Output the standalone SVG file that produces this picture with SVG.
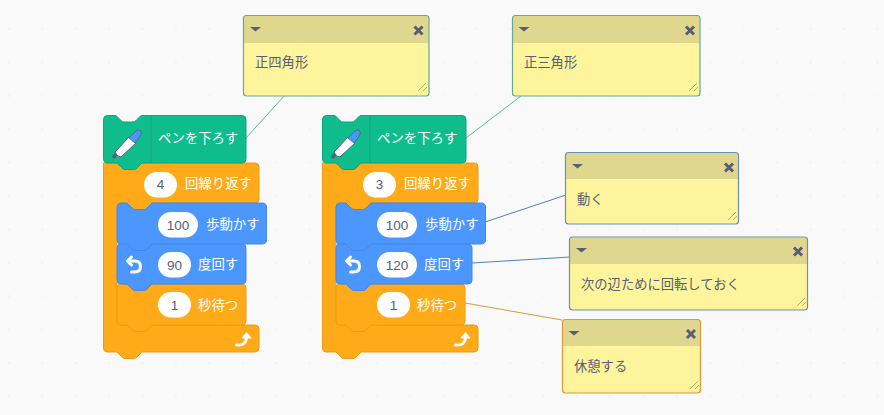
<svg xmlns="http://www.w3.org/2000/svg" width="884" height="415" viewBox="0 0 884 415">
<style>
text{font-family:"Noto Sans CJK JP","Noto Sans",sans-serif}
.lbl{font-size:13.400px;fill:#fff}
.num{font-size:13.500px;fill:#575e75;text-anchor:middle;font-family:"Liberation Sans",Arial,sans-serif}
.pill{fill:#fff}
.note{font-size:13.300px;fill:#575e75}
.nb{fill:#fef49c}
.nh{fill:#e0d78e}
.edge{fill:none;stroke-width:1.200}
.ic{fill:#575e75}
.x{stroke:#575e75;stroke-width:3;fill:none}
.grip{stroke:#b5ad70;stroke-width:1;fill:none}
.conn{fill:none;stroke-width:1}
.green{fill:#0fbd8c;stroke:#0da57a}
.orange{fill:#ffab19;stroke:#ec9c13}
.blue{fill:#4c97ff;stroke:#4587e6}
</style>
<defs>
<pattern id="dots" width="33.4" height="33.4" patternUnits="userSpaceOnUse" x="8" y="28">
<circle cx="1" cy="1" r="1" fill="#efefef"/>
</pattern>
<g id="pen">
<path d="M-9 11 L-13 15 L-15 13 L-12 8Z" fill="#575e75"/>
<path d="M-12 8 L2 -7 L9 -1 L-6 13Q-10 13 -12 8Z" fill="#fff" stroke="#575e75" stroke-width="1"/>
<path d="M2 -6 L9 -13 Q12 -15 14 -13 Q15 -10 13 -8 L8 -1Z" fill="#4c97ff" stroke="#575e75" stroke-width=".8"/>
</g>
<g id="turn">
<path d="M-2.500 -7 L-6.500 -3 L-2.500 1 M-5.500 -3 H1 Q6.500 -3 6.500 2.500 Q6.500 8 0.500 8 H-2.500" fill="none" stroke="#fff" stroke-width="3" stroke-linecap="round" stroke-linejoin="round"/>
</g>
<g id="loop">
<path d="M-6.500 6 Q3.500 7 3.500 -2" fill="none" stroke="#fff" stroke-width="2.800" stroke-linecap="round"/>
<path d="M-1 -1 L3.500 -6.500 L8 -1Z" fill="#fff" stroke="#fff" stroke-linejoin="round"/>
</g>
<g id="hdr">
<path d="M0 0 l5.500 -4.500 h-11z" class="ic" transform="translate(0 2.500)"/>
</g>
</defs>
<rect width="884" height="415" fill="#f9f9f9"/>
<rect width="884" height="415" fill="url(#dots)"/>

<g id="connectors">
<path class="conn" stroke="#5db3a0" d="M246 138L285 95"/>
<path class="conn" stroke="#5db3a0" d="M466 138L521 96"/>
<path class="conn" stroke="#4c7fc5" d="M485 222L566 195"/>
<path class="conn" stroke="#4c7fc5" d="M472 263L570 257"/>
<path class="conn" stroke="#d9993a" d="M465 303L562 320"/>
</g>

<g id="stack1">
<path class="orange" d="M103.500 163H255Q259 163 259 167V199Q259 203 255 203H152l-5 5q-1.500 1.500 -3 1.500h-9q-1.500 0 -3 -1.500l-5 -5H121Q117 203 117 207V321Q117 325 121 325H127l5 5q1.500 1.500 3 1.500h9q1.500 0 3 -1.500l5 -5H255Q259 325 259 329V348Q259 352 255 352H142l-5 5q-1.500 1.500 -3 1.500h-9q-1.500 0 -3 -1.500l-5 -5H107Q103.500 352 103.500 348Z"/>
<path class="green" d="M103.500 119.500Q103.500 115.500 107.500 115.500H116l5 5q1.500 1.500 3 1.500h9q1.500 0 3 -1.500l5 -5H242Q246 115.500 246 119.500V159Q246 163 242 163H142l-5 5q-1.500 1.500 -3 1.500h-9q-1.500 0 -3 -1.500l-5 -5H107.500Q103.500 163 103.500 159Z"/>
<path d="M151 116V163" stroke="#0da57a" fill="none"/>
<use href="#pen" x="127" y="144"/>
<text class="lbl" x="158" y="143">ペンを下ろす</text>
<rect class="pill" x="144" y="172" width="33" height="25.500" rx="12.700"/>
<text class="num" x="160.500" y="189">4</text>
<text class="lbl" x="185" y="188">回繰り返す</text>
<path class="blue" d="M117 207Q117 203 121 203H127l5 5q1.500 1.500 3 1.500h9q1.500 0 3 -1.500l5 -5H262Q266.500 203 266.500 207V240Q266.500 244 262 244H152l-5 5q-1.500 1.500 -3 1.500h-9q-1.500 0 -3 -1.500l-5 -5H121Q117 244 117 240Z"/>
<rect class="pill" x="158" y="212" width="40" height="25.500" rx="12.700"/>
<text class="num" x="178" y="229.500">100</text>
<text class="lbl" x="206" y="229">歩動かす</text>
<path class="orange" d="M117 288Q117 284 121 284H127l5 5q1.500 1.500 3 1.500h9q1.500 0 3 -1.500l5 -5H242Q246 284 246 288V321Q246 325 242 325H152l-5 5q-1.500 1.500 -3 1.500h-9q-1.500 0 -3 -1.500l-5 -5H121Q117 325 117 321Z"/>
<path class="blue" d="M117 248Q117 244 121 244H127l5 5q1.500 1.500 3 1.500h9q1.500 0 3 -1.500l5 -5H242Q246 244 246 248V280Q246 284 242 284H152l-5 5q-1.500 1.500 -3 1.500h-9q-1.500 0 -3 -1.500l-5 -5H121Q117 284 117 280Z"/>
<use href="#turn" x="134" y="264"/>
<rect class="pill" x="158" y="252" width="33" height="25.500" rx="12.700"/>
<text class="num" x="174.500" y="269.500">90</text>
<text class="lbl" x="198" y="269">度回す</text>
<rect class="pill" x="158" y="292" width="33" height="25.500" rx="12.700"/>
<text class="num" x="174.500" y="309.500">1</text>
<text class="lbl" x="198" y="310">秒待つ</text>
<use href="#loop" x="243" y="339"/>
</g>

<g id="stack2">
<path class="orange" d="M322.500 163H474Q478 163 478 167V199Q478 203 474 203H371l-5 5q-1.500 1.500 -3 1.500h-9q-1.500 0 -3 -1.500l-5 -5H340Q336 203 336 207V321Q336 325 340 325H346l5 5q1.500 1.500 3 1.500h9q1.500 0 3 -1.500l5 -5H474Q478 325 478 329V348Q478 352 474 352H361l-5 5q-1.500 1.500 -3 1.500h-9q-1.500 0 -3 -1.500l-5 -5H326Q322.500 352 322.500 348Z"/>
<path class="green" d="M322.500 119.500Q322.500 115.500 326.500 115.500H335l5 5q1.500 1.500 3 1.500h9q1.500 0 3 -1.500l5 -5H462Q466 115.500 466 119.500V159Q466 163 462 163H361l-5 5q-1.500 1.500 -3 1.500h-9q-1.500 0 -3 -1.500l-5 -5H326.500Q322.500 163 322.500 159Z"/>
<path d="M370 116V163" stroke="#0da57a" fill="none"/>
<use href="#pen" x="346" y="144"/>
<text class="lbl" x="377" y="143">ペンを下ろす</text>
<rect class="pill" x="363" y="172" width="33" height="25.500" rx="12.700"/>
<text class="num" x="379.500" y="189">3</text>
<text class="lbl" x="404" y="188">回繰り返す</text>
<path class="blue" d="M336 207Q336 203 340 203H346l5 5q1.500 1.500 3 1.500h9q1.500 0 3 -1.500l5 -5H481Q485.500 203 485.500 207V240Q485.500 244 481 244H371l-5 5q-1.500 1.500 -3 1.500h-9q-1.500 0 -3 -1.500l-5 -5H340Q336 244 336 240Z"/>
<rect class="pill" x="377" y="212" width="40" height="25.500" rx="12.700"/>
<text class="num" x="397" y="229.500">100</text>
<text class="lbl" x="425" y="229">歩動かす</text>
<path class="orange" d="M336 288Q336 284 340 284H346l5 5q1.500 1.500 3 1.500h9q1.500 0 3 -1.500l5 -5H461Q465 284 465 288V321Q465 325 461 325H371l-5 5q-1.500 1.500 -3 1.500h-9q-1.500 0 -3 -1.500l-5 -5H340Q336 325 336 321Z"/>
<path class="blue" d="M336 248Q336 244 340 244H346l5 5q1.500 1.500 3 1.500h9q1.500 0 3 -1.500l5 -5H468Q472 244 472 248V280Q472 284 468 284H371l-5 5q-1.500 1.500 -3 1.500h-9q-1.500 0 -3 -1.500l-5 -5H340Q336 284 336 280Z"/>
<use href="#turn" x="353" y="264"/>
<rect class="pill" x="377" y="252" width="40" height="25.500" rx="12.700"/>
<text class="num" x="397" y="269.500">120</text>
<text class="lbl" x="424" y="269">度回す</text>
<rect class="pill" x="377" y="292" width="33" height="25.500" rx="12.700"/>
<text class="num" x="393.500" y="309.500">1</text>
<text class="lbl" x="417" y="310">秒待つ</text>
<use href="#loop" x="462" y="339"/>
</g>

<g id="note1">
<rect class="nb" x="243.500" y="15.500" width="185.500" height="80.500" rx="3"/>
<path class="nh" d="M244 19Q244 16 247 16H425.500Q428.500 16 428.500 19V43H244Z"/>
<use href="#hdr" x="255.500" y="29"/>
<path class="x" d="M414.500 26.500L422.500 34.500M422.500 26.500L414.500 34.500"/>
<path class="grip" d="M418 91L426 83M423 91L427 87"/>
<text class="note" x="255" y="67">正四角形</text>
<rect class="edge" stroke="#62ab92" x="243.500" y="15.500" width="185.500" height="80.500" rx="3"/>
</g>
<g id="note2">
<rect class="nb" x="512.500" y="15.500" width="187.500" height="80.500" rx="3"/>
<path class="nh" d="M513 19Q513 16 516 16H696.500Q699.500 16 699.500 19V43H513Z"/>
<use href="#hdr" x="524" y="29"/>
<path class="x" d="M686 26.500L694 34.500M694 26.500L686 34.500"/>
<path class="grip" d="M689 91L697 83M694 91L698 87"/>
<text class="note" x="524" y="67">正三角形</text>
<rect class="edge" stroke="#62ab92" x="512.500" y="15.500" width="187.500" height="80.500" rx="3"/>
</g>
<g id="note3">
<rect class="nb" x="565.500" y="152.500" width="173" height="71.500" rx="3"/>
<path class="nh" d="M566 156Q566 153 569 153H735Q738 153 738 156V179H566Z"/>
<use href="#hdr" x="577.500" y="166"/>
<path class="x" d="M725 163.500L733 171.500M733 163.500L725 171.500"/>
<path class="grip" d="M728 220L736 212M733 220L737 216"/>
<text class="note" x="577" y="204">動く</text>
<rect class="edge" stroke="#6d8fb5" x="565.500" y="152.500" width="173" height="71.500" rx="3"/>
</g>
<g id="note4">
<rect class="nb" x="569.500" y="237" width="238" height="73" rx="3"/>
<path class="nh" d="M570 240Q570 237.500 573 237.500H804Q807 237.500 807 240V264H570Z"/>
<use href="#hdr" x="581.500" y="250"/>
<path class="x" d="M794 247.500L802 255.500M802 247.500L794 255.500"/>
<path class="grip" d="M797 306L805 298M802 306L806 302"/>
<text class="note" x="581" y="289">次の辺ために回転しておく</text>
<rect class="edge" stroke="#6d8fb5" x="569.500" y="237" width="238" height="73" rx="3"/>
</g>
<g id="note5">
<rect class="nb" x="562.500" y="319.500" width="138" height="73.500" rx="3"/>
<path class="nh" d="M563 322Q563 320 566 320H697Q700 320 700 322V346H563Z"/>
<use href="#hdr" x="574" y="333"/>
<path class="x" d="M687 330L695 338M695 330L687 338"/>
<path class="grip" d="M690 389L698 381M695 389L699 385"/>
<text class="note" x="574" y="371">休憩する</text>
<rect class="edge" stroke="#d9993a" x="562.500" y="319.500" width="138" height="73.500" rx="3"/>
</g>
</svg>
